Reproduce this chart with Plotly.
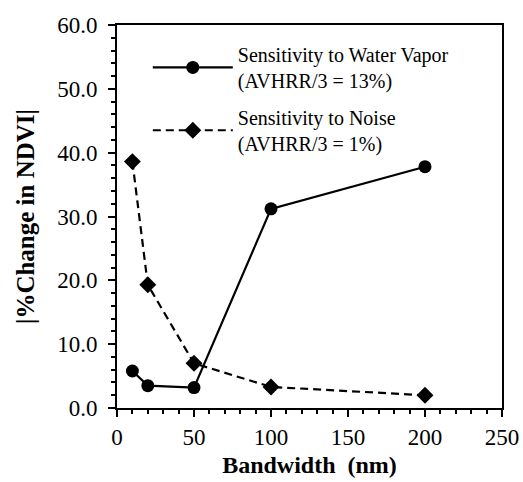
import plotly.graph_objects as go

bandwidth = [10, 20, 50, 100, 200]
water_vapor = [5.8, 3.5, 3.2, 31.2, 37.8]
noise = [38.6, 19.3, 7.0, 3.3, 2.0]

water_name = "Sensitivity to Water Vapor<br>(AVHRR/3 = 13%)"
noise_name = "Sensitivity to Noise<br>(AVHRR/3 = 1%)"

serif = "Liberation Serif, Times New Roman, serif"

fig = go.Figure()
fig.add_trace(go.Scatter(
    x=bandwidth, y=water_vapor, name=water_name, mode="lines+markers",
    line=dict(color="black", width=2.2),
    marker=dict(symbol="circle", size=13, color="black"),
    legend="legend",
))
fig.add_trace(go.Scatter(
    x=bandwidth, y=noise, name=noise_name, mode="lines+markers",
    line=dict(color="black", width=2.2, dash="8px,5px"),
    marker=dict(symbol="diamond", size=13, color="black"),
    legend="legend2",
))

axis_common = dict(
    showline=True, linecolor="black", linewidth=2, mirror=True,
    ticks="outside", ticklen=7, tickwidth=2, tickcolor="black",
    showgrid=False, zeroline=False, automargin=False,
    tickfont=dict(family=serif, size=23, color="black"),
)

fig.update_xaxes(
    range=[0, 250], tickvals=[0, 50, 100, 150, 200, 250],
    minor=dict(ticks="outside", ticklen=4, tickwidth=2, tickcolor="black", dtick=10),
    title=dict(text="<b>Bandwidth  (nm)</b>", font=dict(family=serif, size=24, color="black"), standoff=8),
    **axis_common,
)
fig.update_yaxes(
    range=[0, 60], tickvals=[0, 10, 20, 30, 40, 50, 60], tickformat=".1f",
    minor=dict(ticks="outside", ticklen=4, tickwidth=2, tickcolor="black", dtick=2),
    ticklabelstandoff=6,
    title=dict(text="<b>|%Change in NDVI|</b>", font=dict(family=serif, size=25, color="black"), standoff=15),
    **axis_common,
)

legend_common = dict(
    xanchor="left", yanchor="top",
    bgcolor="rgba(0,0,0,0)", font=dict(family=serif, size=20, color="black"),
    itemwidth=80,
)

fig.update_layout(
    width=523, height=482,
    margin=dict(l=117, r=21, t=25, b=74),
    paper_bgcolor="white", plot_bgcolor="white",
    font=dict(family=serif, color="black"),
    showlegend=True,
    legend=dict(x=0.08, y=0.974, **legend_common),
    legend2=dict(x=0.08, y=0.81, **legend_common),
)

fig.write_html("out.html", post_script="document.body.style.margin='0';",
               config={"displayModeBar": False})
